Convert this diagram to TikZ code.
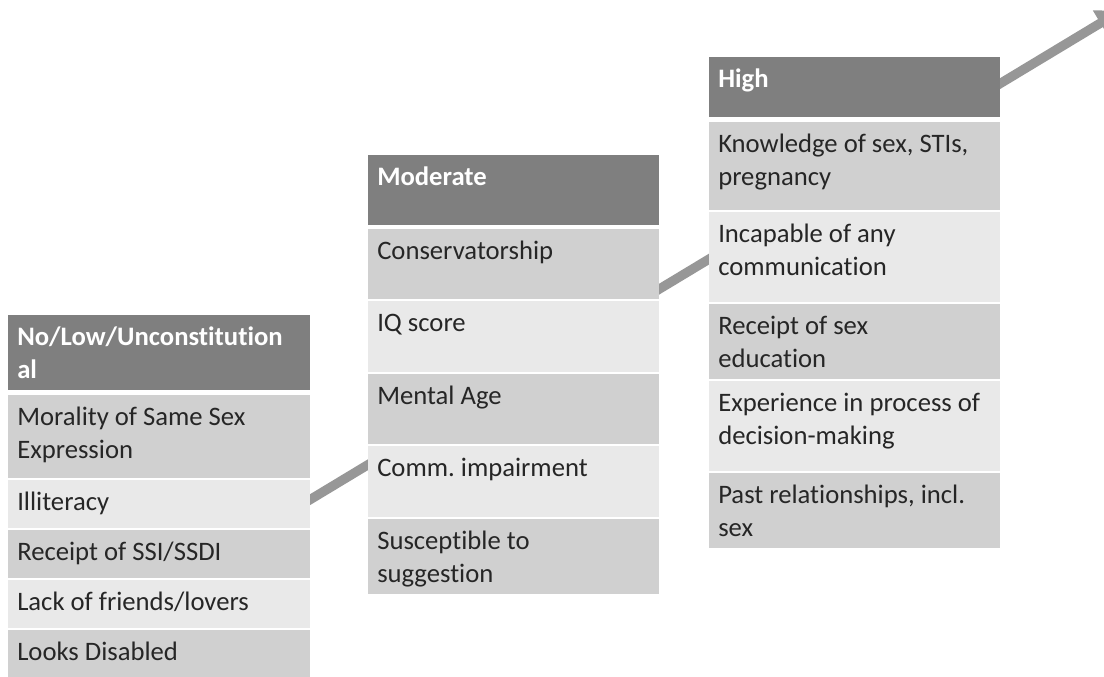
\documentclass[tikz,border=0pt]{standalone}
\usepackage{fontspec}
\setmainfont{Carlito}[Ligatures={NoCommon}]
\usetikzlibrary{arrows.meta}
\frenchspacing
\definecolor{hdr}{HTML}{7F7F7F}
\definecolor{rowdark}{HTML}{D0D0D0}
\definecolor{rowlight}{HTML}{E9E9E9}
\definecolor{arr}{HTML}{979797}
\definecolor{txt}{HTML}{262626}
\newcommand\firstln{\rule{0pt}{22.9pt}}
\tikzset{
  colback/.style={fill=white},
  hdrbox/.style={fill=hdr},
  darkbox/.style={fill=rowdark},
  lightbox/.style={fill=rowlight},
  hdrtxt/.style={anchor=north west, inner sep=0pt, align=left, text=white,
    font=\fontsize{20}{24.75}\selectfont\bfseries},
  celltxt/.style={anchor=north west, inner sep=0pt, align=left, text=txt,
    font=\fontsize{20}{24.75}\selectfont},
  trend/.style={draw=arr, line width=7pt,
    -{Triangle[length=18pt,width=21pt]}}
}
\begin{document}
\begin{tikzpicture}[x=0.75pt,y=-0.75pt]
\useasboundingbox (0,0) rectangle (1104,677);
\clip (0,0) rectangle (1104,677);
\fill[white] (0,0) rectangle (1104,677);
% trend arrow behind the columns
\coordinate (arstart) at (200,566.0);
\coordinate (arend) at (1121,10.7);
\draw[trend] (arstart) -- (arend);
% white backing of the columns (hides the arrow in the gaps)
\path[colback] (8,315) rectangle (310,678);
\path[colback] (368,155) rectangle (659,594);
\path[colback] (709,57) rectangle (1000,548);
% column 1
\path[hdrbox] (8,315) rectangle (310,390);
\node[hdrtxt] (c1h) at (17,315) {\firstln No/Low/Unconstitution\\al};
\path[darkbox] (8,395) rectangle (310,478);
\node[celltxt] (c1a) at (17,395) {\firstln Morality of Same Sex\\Expression};
\path[lightbox] (8,480) rectangle (310,528);
\node[celltxt] (c1b) at (17,480) {\firstln Illiteracy};
\path[darkbox] (8,530) rectangle (310,578);
\node[celltxt] (c1c) at (17,530) {\firstln Receipt of SSI/SSDI};
\path[lightbox] (8,580) rectangle (310,628);
\node[celltxt] (c1d) at (17,580) {\firstln Lack of friends/lovers};
\path[darkbox] (8,630) rectangle (310,678);
\node[celltxt] (c1e) at (17,630) {\firstln Looks Disabled};
% column 2
\path[hdrbox] (368,155) rectangle (659,225);
\node[hdrtxt] (c2h) at (377,155) {\firstln Moderate};
\path[darkbox] (368,229) rectangle (659,299);
\node[celltxt] (c2a) at (377,229) {\firstln Conservatorship};
\path[lightbox] (368,301) rectangle (659,372);
\node[celltxt] (c2b) at (377,301) {\firstln IQ score};
\path[darkbox] (368,374) rectangle (659,444);
\node[celltxt] (c2c) at (377,374) {\firstln Mental Age};
\path[lightbox] (368,446) rectangle (659,517);
\node[celltxt] (c2d) at (377,446) {\firstln Comm.\ impairment};
\path[darkbox] (368,519) rectangle (659,594);
\node[celltxt] (c2e) at (377,519) {\firstln Susceptible to\\suggestion};
% column 3
\path[hdrbox] (709,57) rectangle (1000,117);
\node[hdrtxt] (c3h) at (718,57) {\firstln High};
\path[darkbox] (709,122) rectangle (1000,210);
\node[celltxt] (c3a) at (718,122) {\firstln Knowledge of sex, STIs,\\pregnancy};
\path[lightbox] (709,212) rectangle (1000,302);
\node[celltxt] (c3b) at (718,212) {\firstln Incapable of any\\communication};
\path[darkbox] (709,304) rectangle (1000,379);
\node[celltxt] (c3c) at (718,304) {\firstln Receipt of sex\\education};
\path[lightbox] (709,381) rectangle (1000,471);
\node[celltxt] (c3d) at (718,381) {\firstln Experience in process of\\decision-making};
\path[darkbox] (709,473) rectangle (1000,548);
\node[celltxt] (c3e) at (718,473) {\firstln Past relationships, incl.\\sex};
\end{tikzpicture}
\end{document}
